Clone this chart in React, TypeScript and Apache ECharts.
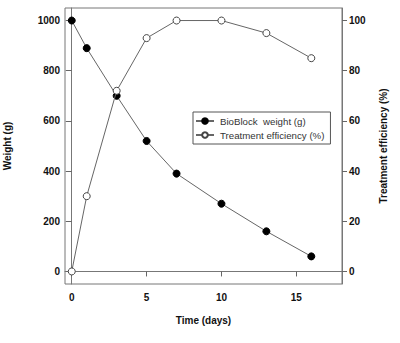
import React, { useEffect, useRef } from "react";
import * as echarts from "echarts";

const days = [0, 1, 3, 5, 7, 10, 13, 16];
const weight = [1000, 890, 700, 520, 390, 270, 160, 60];
const efficiency = [0, 30, 72, 93, 100, 100, 95, 85];
const xTicks = [0, 5, 10, 15];
const leftTicks = [0, 200, 400, 600, 800, 1000];
const rightTicks = [0, 20, 40, 60, 80, 100];

const FONT = "'Liberation Sans', Arial, sans-serif";

export default function App() {
  const ref = useRef<HTMLDivElement>(null);
  useEffect(() => {
    if (!ref.current) return;
    const chart = echarts.init(ref.current, undefined, { renderer: "svg" });
    const labelStyle = { color: "#111", fontSize: 10, fontWeight: "bold" as const, fontFamily: FONT };
    const fmt = (v: number) => String(v);
    const line = { show: true, lineStyle: { color: "#777", width: 1 } };
    chart.setOption({
      animation: false,
      backgroundColor: "#fff",
      grid: {
        left: 65,
        top: 8,
        right: 58,
        bottom: 59,
        show: true,
        borderColor: "#777",
        borderWidth: 1,
        backgroundColor: "transparent",
        containLabel: false,
        outerBoundsMode: "none",
      },
      legend: {
        show: true,
        left: 193,
        top: 112,
        orient: "vertical",
        itemWidth: 18,
        itemHeight: 7,
        itemGap: 4,
        padding: [4, 6, 4, 2],
        borderColor: "#555",
        borderWidth: 1,
        backgroundColor: "#fff",
        textStyle: { color: "#333", fontSize: 9.7, fontFamily: FONT, padding: [0, 0, 0, 1] },
        data: ["BioBlock  weight (g)", "Treatment efficiency (%)"],
      },
      xAxis: {
        type: "value",
        min: -0.45,
        max: 18.05,
        name: "Time (days)",
        nameLocation: "middle",
        nameGap: 31,
        nameTextStyle: { ...labelStyle, verticalAlign: "top" },
        axisLine: line,
        axisTick: { show: true, length: 5, lineStyle: { color: "#666", width: 1 }, customValues: xTicks },
        axisLabel: { ...labelStyle, margin: 8, customValues: xTicks, formatter: fmt },
        splitLine: { show: false },
      },
      yAxis: [
        {
          type: "value",
          position: "left",
          min: -50,
          max: 1050,
          name: "Weight (g)",
          nameLocation: "middle",
          nameRotate: 90,
          nameGap: 53,
          nameTextStyle: labelStyle,
          axisLine: line,
          axisTick: { show: true, length: 6, lineStyle: { color: "#666", width: 1 }, customValues: leftTicks },
          axisLabel: { ...labelStyle, margin: 5, customValues: leftTicks, formatter: fmt },
          splitLine: { show: false },
        },
        {
          type: "value",
          position: "right",
          min: -5,
          max: 105,
          name: "Treatment efficiency (%)",
          nameLocation: "middle",
          nameRotate: 90,
          nameGap: 36,
          nameTextStyle: labelStyle,
          axisLine: line,
          axisTick: { show: true, length: 5, lineStyle: { color: "#666", width: 1 }, customValues: rightTicks },
          axisLabel: { ...labelStyle, margin: 7, customValues: rightTicks, formatter: fmt },
          splitLine: { show: false },
        },
      ],
      series: [
        {
          name: "BioBlock  weight (g)",
          type: "line",
          yAxisIndex: 0,
          data: days.map((d, i) => [d, weight[i]]),
          symbol: "circle",
          symbolSize: 7,
          lineStyle: { color: "#666", width: 1 },
          itemStyle: { color: "#000", borderColor: "#000", borderWidth: 1 },
          z: 3,
        },
        {
          name: "Treatment efficiency (%)",
          type: "line",
          yAxisIndex: 1,
          data: days.map((d, i) => [d, efficiency[i]]),
          symbol: "circle",
          symbolSize: 7,
          lineStyle: { color: "#666", width: 1 },
          itemStyle: { color: "#fff", borderColor: "#444", borderWidth: 1 },
          z: 4,
        },
      ],
    });
    return () => chart.dispose();
  }, []);
  return <div ref={ref} style={{ width: 400, height: 343, position: "absolute", left: 0, top: 0 }} />;
}
